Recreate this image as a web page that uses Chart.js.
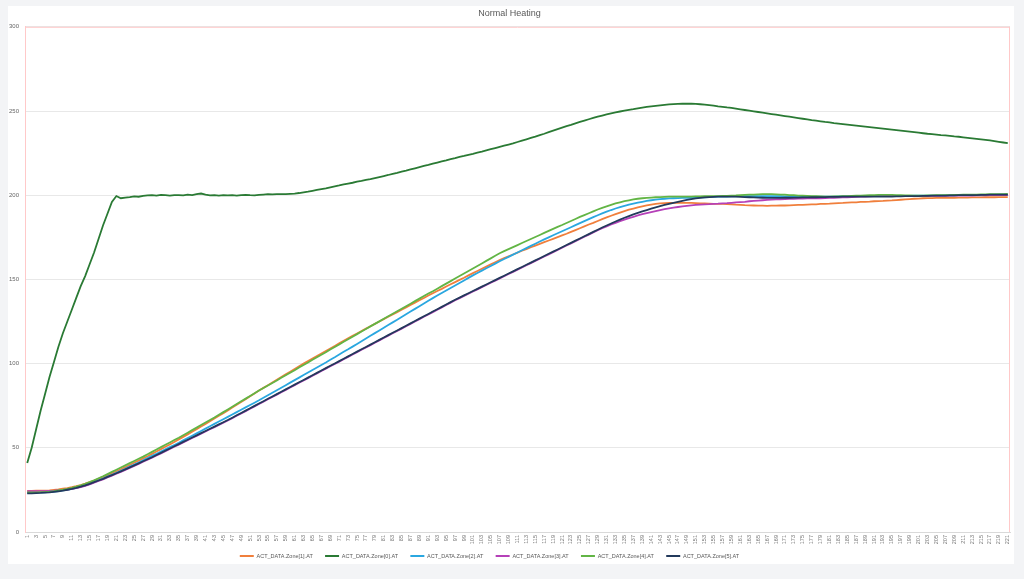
<!DOCTYPE html>
<html>
<head>
<meta charset="utf-8">
<script src="https://cdn.jsdelivr.net/npm/chart.js@4.4.1/dist/chart.umd.min.js"></script>
<style>
  html, body { margin: 0; padding: 0; background: #f3f4f6; width: 1024px; height: 579px; overflow: hidden; }
  #card { position: absolute; left: 8px; top: 6px; width: 1006px; height: 558px; background: #ffffff; }
  #wrap { position: absolute; left: 8px; top: 6px; width: 1006px; height: 569px; }
</style>
</head>
<body>
<div id="card"></div>
<div id="wrap"><canvas id="c" width="1006" height="569"></canvas></div>
<script>
const chartTitle = "Normal Heating";
const categories = Array.from({ length: 221 }, (_, i) => String(i + 1));
const yTicks = [0, 50, 100, 150, 200, 250, 300];
const seriesNames = ["ACT_DATA.Zone[1].AT", "ACT_DATA.Zone[0].AT", "ACT_DATA.Zone[2].AT", "ACT_DATA.Zone[3].AT", "ACT_DATA.Zone[4].AT", "ACT_DATA.Zone[5].AT"];

const zone1 = [24.4,24.4,24.5,24.5,24.6,24.7,25.0,25.3,25.7,26.1,
26.6,27.2,27.9,28.7,29.6,30.6,31.6,32.7,33.8,34.9,
36.1,37.3,38.5,39.8,41.1,42.4,43.7,45.0,46.4,47.8,
49.2,50.6,52.0,53.5,55.0,56.5,58.0,59.5,61.0,62.6,
64.2,65.8,67.4,69.0,70.6,72.2,73.9,75.6,77.2,78.9,
80.6,82.3,84.0,85.6,87.2,88.8,90.4,92.0,93.6,95.2,
96.8,98.4,100.0,101.5,103.0,104.5,106.0,107.5,109.0,110.5,
112.0,113.5,115.0,116.5,117.9,119.3,120.8,122.2,123.6,125.0,
126.4,127.8,129.2,130.6,132.0,133.4,134.8,136.2,137.6,139.0,
140.4,141.8,143.1,144.4,145.8,147.1,148.4,149.7,151.0,152.4,
153.7,155.0,156.3,157.6,158.9,160.2,161.5,162.6,163.7,164.8,
165.9,167.0,168.0,169.1,170.1,171.1,172.1,173.1,174.1,175.1,
176.1,177.1,178.2,179.3,180.4,181.5,182.6,183.6,184.7,185.8,
186.8,187.8,188.8,189.7,190.6,191.4,192.1,192.8,193.4,193.9,
194.4,194.8,195.1,195.3,195.4,195.5,195.5,195.5,195.5,195.4,
195.3,195.2,195.1,195.0,194.9,194.9,194.8,194.7,194.6,194.4,
194.3,194.1,194.0,193.9,193.8,193.8,193.7,193.8,193.8,193.9,
193.9,194.0,194.1,194.2,194.3,194.4,194.5,194.6,194.8,194.9,
195.0,195.2,195.3,195.4,195.6,195.7,195.8,196.0,196.1,196.2,
196.4,196.5,196.6,196.8,196.9,197.1,197.3,197.5,197.7,197.9,
198.0,198.2,198.3,198.3,198.4,198.4,198.5,198.5,198.5,198.6,
198.6,198.6,198.7,198.7,198.7,198.8,198.8,198.8,198.9,198.9,198.9];

const zone0 = [41,50,61,72,82,92,101,110,118,125,
132,139,146,152,159,166,174,182,189,196,
199.5,198.2,198.6,198.9,199.3,199.1,199.6,199.9,200.1,199.8,
200.2,200.0,199.8,200.1,200.0,199.9,200.3,200.1,200.6,201.0,
200.3,199.9,200.1,199.8,200.0,199.9,200.0,199.8,200.1,200.2,
200.0,199.9,200.2,200.4,200.6,200.5,200.6,200.7,200.6,200.8,
201.0,201.3,201.7,202.1,202.6,203.1,203.6,204.1,204.7,205.3,
205.8,206.4,206.9,207.4,208.0,208.5,209.1,209.6,210.2,210.8,
211.4,212.0,212.7,213.3,214.0,214.6,215.3,216.0,216.7,217.4,
218.0,218.7,219.4,220.1,220.7,221.4,222.0,222.7,223.3,224.0,
224.6,225.3,225.9,226.6,227.3,228.0,228.7,229.4,230.1,230.8,
231.6,232.4,233.2,234.0,234.8,235.7,236.5,237.4,238.3,239.2,
240.1,241.0,241.8,242.7,243.5,244.3,245.1,245.9,246.6,247.3,
248.0,248.6,249.2,249.7,250.2,250.7,251.1,251.6,252.0,252.4,
252.8,253.1,253.4,253.7,253.9,254.1,254.2,254.3,254.3,254.3,
254.2,254.0,253.8,253.5,253.2,252.8,252.5,252.1,251.8,251.4,
251.0,250.6,250.2,249.8,249.4,249.0,248.6,248.2,247.8,247.4,
247.0,246.6,246.2,245.8,245.4,245.0,244.6,244.3,243.9,243.5,
243.2,242.8,242.5,242.2,241.9,241.6,241.3,241.0,240.7,240.4,
240.1,239.8,239.5,239.2,238.9,238.6,238.3,238.0,237.7,237.4,
237.1,236.8,236.5,236.3,236.0,235.7,235.5,235.2,234.9,234.7,
234.4,234.1,233.8,233.5,233.2,232.9,232.5,232.1,231.7,231.3,230.9];

const zone2 = [23.3,23.3,23.4,23.5,23.6,23.8,24.0,24.3,24.7,25.1,
25.6,26.2,26.9,27.7,28.6,29.6,30.7,31.8,32.9,34.0,
35.2,36.4,37.6,38.8,40.0,41.3,42.6,43.9,45.2,46.5,
47.8,49.1,50.4,51.7,53.0,54.4,55.8,57.2,58.6,60.0,
61.4,62.8,64.2,65.6,67.0,68.4,69.8,71.2,72.6,74.0,
75.4,76.8,78.2,79.7,81.2,82.7,84.2,85.7,87.2,88.7,
90.2,91.7,93.2,94.7,96.2,97.7,99.2,100.7,102.3,103.8,
105.4,107.0,108.5,110.1,111.7,113.3,114.9,116.5,118.1,119.7,
121.3,122.9,124.5,126.1,127.7,129.3,130.9,132.5,134.1,135.7,
137.3,138.9,140.4,141.9,143.4,144.9,146.4,147.9,149.4,150.9,
152.4,153.8,155.2,156.6,158.0,159.4,160.8,162.1,163.4,164.7,
166.0,167.3,168.6,169.9,171.2,172.5,173.8,175.0,176.2,177.4,
178.6,179.8,181.0,182.2,183.4,184.6,185.8,187.0,188.1,189.2,
190.2,191.2,192.1,192.9,193.7,194.4,195.0,195.6,196.1,196.6,
197.0,197.4,197.7,197.9,198.1,198.2,198.3,198.4,198.5,198.5,
198.6,198.7,198.8,198.9,199.0,199.1,199.1,199.2,199.3,199.3,
199.4,199.4,199.5,199.5,199.5,199.5,199.5,199.5,199.4,199.4,
199.3,199.3,199.2,199.2,199.2,199.1,199.1,199.1,199.2,199.2,
199.2,199.2,199.3,199.3,199.3,199.3,199.4,199.4,199.4,199.4,
199.5,199.5,199.5,199.5,199.5,199.6,199.6,199.6,199.6,199.7,
199.7,199.7,199.7,199.8,199.8,199.8,199.9,199.9,199.9,200.0,
200.0,200.0,200.1,200.1,200.1,200.2,200.2,200.2,200.3,200.3,200.3];

const zone3 = [24.2,24.2,24.2,24.3,24.3,24.4,24.5,24.7,24.9,25.2,
25.6,26.1,26.7,27.4,28.3,29.3,30.3,31.3,32.4,33.5,
34.6,35.7,36.9,38.1,39.3,40.5,41.7,42.9,44.1,45.4,
46.7,48.0,49.3,50.6,51.9,53.2,54.5,55.8,57.1,58.4,
59.7,61.0,62.3,63.6,64.9,66.2,67.6,69.0,70.4,71.8,
73.2,74.6,76.0,77.4,78.8,80.2,81.6,83.0,84.4,85.8,
87.2,88.6,90.0,91.4,92.8,94.2,95.6,97.0,98.4,99.8,
101.2,102.6,104.0,105.4,106.8,108.2,109.6,111.0,112.4,113.8,
115.2,116.6,118.0,119.4,120.8,122.2,123.6,125.0,126.4,127.8,
129.2,130.6,132.0,133.4,134.8,136.2,137.6,138.9,140.2,141.5,
142.8,144.1,145.4,146.7,148.0,149.3,150.6,151.9,153.2,154.5,
155.8,157.1,158.4,159.7,161.0,162.3,163.6,164.9,166.2,167.5,
168.8,170.1,171.4,172.7,174.0,175.3,176.6,177.9,179.2,180.4,
181.5,182.6,183.6,184.6,185.5,186.4,187.2,188.0,188.7,189.4,
190.0,190.6,191.2,191.7,192.2,192.6,193.0,193.4,193.7,194.0,
194.2,194.4,194.6,194.7,194.9,195.0,195.2,195.3,195.5,195.7,
195.9,196.1,196.4,196.6,196.8,197.0,197.2,197.4,197.5,197.6,
197.7,197.8,197.9,198.0,198.0,198.1,198.1,198.2,198.2,198.3,
198.4,198.5,198.6,198.7,198.8,198.9,199.0,199.1,199.2,199.3,
199.4,199.5,199.5,199.6,199.6,199.6,199.6,199.6,199.5,199.5,
199.5,199.5,199.5,199.5,199.6,199.6,199.6,199.7,199.7,199.7,
199.8,199.8,199.8,199.9,199.9,199.9,200.0,200.0,200.0,200.0,200.0];

const zone4 = [23.5,23.5,23.6,23.7,23.8,24.0,24.3,24.7,25.1,25.6,
26.2,26.9,27.7,28.6,29.6,30.7,31.9,33.1,34.4,35.7,
37.0,38.3,39.6,40.9,42.2,43.5,44.8,46.2,47.6,49.0,
50.4,51.8,53.2,54.6,56.0,57.5,59.0,60.5,62.0,63.5,
65.0,66.5,68.0,69.6,71.2,72.8,74.4,76.0,77.6,79.2,
80.8,82.4,84.0,85.5,87.0,88.5,90.0,91.6,93.1,94.6,
96.1,97.7,99.2,100.7,102.3,103.8,105.3,106.8,108.4,109.9,
111.4,113.0,114.5,116.0,117.5,119.1,120.6,122.1,123.6,125.1,
126.6,128.1,129.6,131.1,132.6,134.1,135.6,137.1,138.6,140.1,
141.6,143.0,144.5,146.0,147.5,149.0,150.5,152.0,153.5,155.0,
156.5,158.0,159.5,161.0,162.5,164.0,165.5,166.8,168.0,169.2,
170.4,171.6,172.8,174.0,175.2,176.4,177.6,178.8,180.0,181.2,
182.3,183.5,184.7,185.9,187.1,188.2,189.3,190.4,191.5,192.5,
193.4,194.3,195.1,195.8,196.5,197.0,197.5,197.9,198.2,198.4,
198.6,198.8,198.9,199.0,199.1,199.1,199.2,199.2,199.2,199.2,
199.3,199.3,199.4,199.4,199.5,199.5,199.6,199.6,199.8,199.9,
200.1,200.2,200.3,200.4,200.5,200.6,200.6,200.6,200.5,200.4,
200.3,200.1,200.0,199.8,199.7,199.6,199.5,199.4,199.3,199.2,
199.2,199.3,199.3,199.4,199.5,199.6,199.7,199.8,199.9,200.0,
200.1,200.2,200.2,200.2,200.2,200.1,200.0,199.9,199.9,199.8,
199.8,199.8,199.9,199.9,200.0,200.0,200.1,200.1,200.2,200.2,
200.3,200.3,200.4,200.4,200.5,200.5,200.6,200.6,200.7,200.7,200.8];

const zone5 = [23.0,23.0,23.1,23.2,23.4,23.6,23.9,24.2,24.6,25.1,
25.6,26.2,26.9,27.7,28.6,29.6,30.6,31.6,32.7,33.8,
34.9,36.0,37.2,38.4,39.6,40.8,42.0,43.2,44.4,45.7,
47.0,48.3,49.6,50.9,52.2,53.5,54.8,56.1,57.4,58.7,
60.0,61.3,62.6,63.9,65.2,66.5,67.9,69.3,70.7,72.1,
73.5,74.9,76.3,77.7,79.1,80.5,81.9,83.3,84.7,86.1,
87.5,88.9,90.3,91.7,93.1,94.5,95.9,97.3,98.7,100.1,
101.5,102.9,104.3,105.7,107.1,108.5,109.9,111.3,112.7,114.1,
115.5,116.9,118.3,119.7,121.1,122.5,123.9,125.3,126.7,128.1,
129.5,130.9,132.3,133.7,135.1,136.5,137.9,139.2,140.5,141.8,
143.1,144.4,145.7,147.0,148.3,149.6,150.9,152.2,153.5,154.8,
156.1,157.4,158.7,160.0,161.3,162.6,163.9,165.2,166.5,167.8,
169.1,170.4,171.7,173.0,174.3,175.6,176.9,178.2,179.5,180.8,
182.0,183.2,184.4,185.5,186.6,187.6,188.6,189.5,190.4,191.2,
192.0,192.8,193.5,194.2,194.9,195.5,196.1,196.7,197.2,197.7,
198.1,198.4,198.7,198.9,199.0,199.1,199.2,199.2,199.2,199.1,
199.0,198.9,198.8,198.7,198.6,198.5,198.4,198.4,198.4,198.4,
198.5,198.5,198.6,198.6,198.7,198.7,198.8,198.8,198.9,198.9,
199.0,199.0,199.0,199.1,199.1,199.1,199.1,199.2,199.2,199.2,
199.2,199.2,199.2,199.2,199.2,199.3,199.3,199.4,199.4,199.5,
199.5,199.6,199.6,199.7,199.7,199.8,199.8,199.9,199.9,200.0,
200.0,200.0,200.1,200.1,200.2,200.2,200.3,200.3,200.3,200.4,200.4];

const seriesValues = [zone1, zone0, zone2, zone3, zone4, zone5];
const seriesColors = ["#F07F3C", "#2A7A34", "#2AA7E0", "#B540B8", "#62B545", "#233A5C"];

const FONT = "'Liberation Sans', Arial, sans-serif";
const LEGEND_FONT = 5.5;
const LEGEND_PAD = 12.3;

const plotFrame = {
  id: 'plotFrame',
  beforeDatasetsDraw(chart) {
    const { ctx, chartArea: a } = chart;
    ctx.save();
    ctx.strokeStyle = '#ffc9c9';
    ctx.lineWidth = 1;
    ctx.beginPath();
    ctx.moveTo(a.left, a.top + 0.5);
    ctx.lineTo(a.right, a.top + 0.5);
    ctx.moveTo(a.right - 0.5, a.top);
    ctx.lineTo(a.right - 0.5, a.bottom);
    ctx.moveTo(a.left + 0.5, a.top);
    ctx.lineTo(a.left + 0.5, a.bottom);
    ctx.stroke();
    ctx.restore();
  },
  afterLayout(chart) {
    const lg = chart.legend;
    if (lg) {
      const dy = 550 - (lg.top + LEGEND_PAD + LEGEND_FONT / 2);
      lg.top += dy; lg.bottom += dy;
      lg.left -= 20; lg.right -= 20;
    }
  }
};

new Chart(document.getElementById('c'), {
  type: 'line',
  data: {
    labels: categories,
    datasets: seriesNames.map((name, k) => ({
      label: name,
      data: seriesValues[k],
      borderColor: seriesColors[k],
      backgroundColor: seriesColors[k],
      borderWidth: 1.8,
      pointRadius: 0,
      pointHoverRadius: 0,
      tension: 0,
      fill: false,
      order: seriesNames.length - 1 - k
    }))
  },
  options: {
    responsive: false,
    animation: false,
    layout: { padding: { left: 1, right: 4, top: 0, bottom: 0 } },
    plugins: {
      title: {
        display: true,
        text: chartTitle,
        color: '#595959',
        font: { family: FONT, size: 9, weight: 'normal' },
        padding: { top: 2, bottom: 8 }
      },
      legend: {
        display: true,
        position: 'bottom',
        labels: {
          font: { family: FONT, size: LEGEND_FONT },
          color: '#595959',
          boxWidth: 14,
          boxHeight: 0,
          padding: LEGEND_PAD,
          sort: (a, b) => a.datasetIndex - b.datasetIndex
        }
      },
      tooltip: { enabled: false }
    },
    scales: {
      x: {
        type: 'category',
        offset: true,
        grid: { display: false, drawTicks: false },
        border: { display: true, color: '#d9d9d9', width: 1 },
        ticks: {
          autoSkip: false,
          minRotation: 90,
          maxRotation: 90,
          padding: 3,
          color: '#777777',
          font: { family: FONT, size: 5.5 },
          callback: function (value, index) { return index % 2 === 0 ? categories[index] : ''; }
        },
        afterFit: (scale) => { scale.paddingLeft = 0; scale.paddingRight = 0; }
      },
      y: {
        min: yTicks[0],
        max: yTicks[yTicks.length - 1],
        afterBuildTicks: (scale) => { scale.ticks = yTicks.map(v => ({ value: v })); },
        grid: { color: '#e8e8e8', lineWidth: 1, drawTicks: false },
        border: { display: true, color: '#ffc9c9', width: 1 },
        ticks: {
          padding: 6,
          color: '#666666',
          font: { family: FONT, size: 6 }
        },
        afterFit: (scale) => { scale.width = 16; }
      }
    }
  },
  plugins: [plotFrame]
});
</script>
</body>
</html>
